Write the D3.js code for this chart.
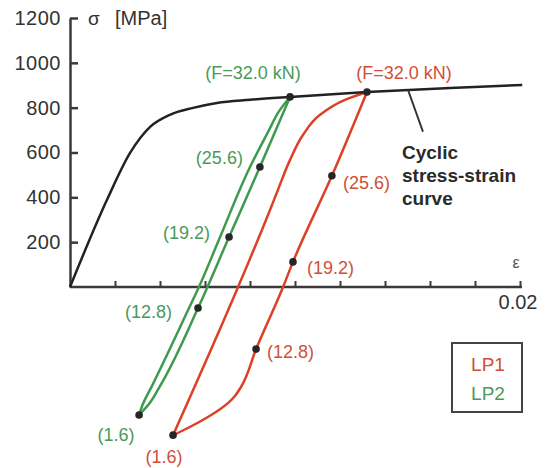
<!DOCTYPE html>
<html>
<head>
<meta charset="utf-8">
<script src="https://cdn.jsdelivr.net/npm/d3@7"></script>
<style>
  body { margin: 0; background: #fff; }
  svg { display: block; font-family: "Liberation Sans", Arial, sans-serif; }
</style>
</head>
<body>
<script>
// cyclic stress-strain curve
var curveStrain = [0, 0.00164, 0.00267, 0.00356, 0.00444, 0.00547, 0.00653, 0.0080, 0.00978, 0.0132, 0.0169, 0.0201];
var curveStress = [0, 388, 598, 714, 768, 799, 821, 835, 848, 870, 888, 901];

// LP1 (red) loop
var lp1LoadStrain = [0.00458, 0.00524, 0.00613, 0.00702, 0.00733, 0.0076, 0.00827, 0.00947, 0.00991, 0.01164, 0.0132];
var lp1LoadStress = [-661, -629, -580, -518, -486, -446, -277, 0, 112, 496, 870];
var lp1UnloadStrain = [0.0132, 0.01222, 0.01111, 0.01036, 0.00978, 0.00924, 0.0088, 0.00747, 0.00458];
var lp1UnloadStress = [870, 835, 768, 679, 567, 433, 321, 0, -661];
var lp1DotStrain = [0.00458, 0.00827, 0.00991, 0.01164, 0.0132];
var lp1DotStress = [-661, -277, 112, 496, 870];

// LP2 (green) loop
var lp2LoadStrain = [0.00307, 0.00351, 0.0040, 0.00569, 0.00707, 0.00844, 0.00978];
var lp2LoadStress = [-571, -522, -442, -94, 223, 535, 848];
var lp2UnloadStrain = [0.00978, 0.00933, 0.0088, 0.0080, 0.00667, 0.00573, 0.00529, 0.00364, 0.00324, 0.00307];
var lp2UnloadStress = [848, 790, 691, 535, 223, 0, -94, -442, -522, -571];
var lp2DotStrain = [0.00307, 0.00569, 0.00707, 0.00844, 0.00978];
var lp2DotStress = [-571, -94, 223, 535, 848];

var forceLabels = ['(1.6)', '(12.8)', '(19.2)', '(25.6)', '(F=32.0 kN)'];
var stressTicks = [200, 400, 600, 800, 1000, 1200];
var strainTicks = [0.002, 0.004, 0.006, 0.008, 0.01, 0.012, 0.014, 0.016, 0.018, 0.02];

var red = '#dc4128', green = '#3f9a4e';
var redText = '#cf5037', greenText = '#4a9a5a';
var axisColor = '#3a3a3a';

// label offsets from each dot [dx, dy, anchor]
var lp1Offsets = [[-9, 22, 'middle'], [11, 3, 'start'], [14, 6, 'start'], [11, 7, 'start'], [37, -19, 'middle']];
var lp2Offsets = [[-23, 20, 'middle'], [-26, 4, 'end'], [-19, -4, 'end'], [-17, -9, 'end'], [-37, -24, 'middle']];

var width = 548, height = 468;

var x = d3.scaleLinear().domain([0, 0.02]).range([70, 520]);
var y = d3.scaleLinear().domain([0, 1200]).range([287, 18]);

var svg = d3.select('body').append('svg')
    .attr('width', width)
    .attr('height', height);

var lineX = d3.line()
    .x(function(d) { return x(d[0]); })
    .y(function(d) { return y(d[1]); })
    .curve(d3.curveMonotoneX);

var lineY = d3.line()
    .x(function(d) { return x(d[0]); })
    .y(function(d) { return y(d[1]); })
    .curve(d3.curveMonotoneY);

function pairs(a, b) {
  return a.map(function(v, i) { return [v, b[i]]; });
}

// axes
var yAxis = d3.axisLeft(y)
    .tickValues(stressTicks)
    .tickSizeInner(-8)
    .tickSizeOuter(0)
    .tickPadding(9)
    .tickFormat(d3.format('d'));

var gy = svg.append('g')
    .attr('transform', 'translate(' + x(0) + ',0)')
    .call(yAxis);
gy.select('.domain').attr('stroke', axisColor).attr('stroke-width', 2.5);
gy.selectAll('.tick line').attr('stroke', axisColor).attr('stroke-width', 2.5);
gy.selectAll('.tick text')
    .attr('fill', '#333')
    .attr('font-size', 20)
    .attr('font-family', '"Liberation Sans", Arial, sans-serif')
    .attr('letter-spacing', 0.5);

var xAxis = d3.axisBottom(x)
    .tickValues(strainTicks)
    .tickSizeInner(-6)
    .tickSizeOuter(0)
    .tickFormat('');

var gx = svg.append('g')
    .attr('transform', 'translate(0,' + y(0) + ')')
    .call(xAxis);
gx.select('.domain').attr('stroke', axisColor).attr('stroke-width', 2.5)
    .attr('d', 'M' + x(0) + ',0H' + (x(0.02) + 2));
gx.selectAll('.tick line').attr('stroke', axisColor).attr('stroke-width', 2);

svg.append('text')
    .attr('x', x(0.02) - 2)
    .attr('y', y(0) + 15)
    .attr('text-anchor', 'middle')
    .attr('dominant-baseline', 'central')
    .attr('font-size', 20)
    .attr('fill', '#333')
    .text('0.02');

svg.append('text')
    .attr('x', x(0.02) - 4)
    .attr('y', y(0) - 25)
    .attr('text-anchor', 'middle')
    .attr('dominant-baseline', 'central')
    .attr('font-size', 16)
    .attr('fill', '#555')
    .text('ε');

svg.append('text')
    .attr('x', x(0) + 18)
    .attr('y', y(1200))
    .attr('dominant-baseline', 'central')
    .attr('font-size', 19)
    .attr('fill', '#333')
    .text('σ');

svg.append('text')
    .attr('x', x(0) + 45)
    .attr('y', y(1200))
    .attr('dominant-baseline', 'central')
    .attr('font-size', 20)
    .attr('fill', '#333')
    .text('[MPa]');

// loops
function drawLoop(load, unload, color) {
  svg.append('path')
      .attr('d', lineY(unload))
      .attr('fill', 'none')
      .attr('stroke', color)
      .attr('stroke-width', 2.5);
  svg.append('path')
      .attr('d', lineY(load))
      .attr('fill', 'none')
      .attr('stroke', color)
      .attr('stroke-width', 2.5);
}

drawLoop(pairs(lp2LoadStrain, lp2LoadStress), pairs(lp2UnloadStrain, lp2UnloadStress), green);
drawLoop(pairs(lp1LoadStrain, lp1LoadStress), pairs(lp1UnloadStrain, lp1UnloadStress), red);

// cyclic curve on top
svg.append('path')
    .attr('d', lineX(pairs(curveStrain, curveStress)))
    .attr('fill', 'none')
    .attr('stroke', '#222')
    .attr('stroke-width', 2.5);

// dots and labels
function drawDots(strain, stress, offsets, color) {
  var pts = pairs(strain, stress);
  svg.append('g').selectAll('circle')
    .data(pts)
    .enter().append('circle')
      .attr('cx', function(d) { return x(d[0]); })
      .attr('cy', function(d) { return y(d[1]); })
      .attr('r', 3.8)
      .attr('fill', '#262626');
  svg.append('g').selectAll('text')
    .data(pts)
    .enter().append('text')
      .attr('x', function(d, i) { return x(d[0]) + offsets[i][0]; })
      .attr('y', function(d, i) { return y(d[1]) + offsets[i][1]; })
      .attr('text-anchor', function(d, i) { return offsets[i][2]; })
      .attr('dominant-baseline', 'central')
      .attr('font-size', 18)
      .attr('fill', color)
      .text(function(d, i) { return forceLabels[i]; });
}

drawDots(lp2DotStrain, lp2DotStress, lp2Offsets, greenText);
drawDots(lp1DotStrain, lp1DotStress, lp1Offsets, redText);

// cyclic curve annotation
svg.append('line')
    .attr('x1', x(0.01502)).attr('y1', y(880))
    .attr('x2', x(0.01502) + 15).attr('y2', y(880) + 42)
    .attr('stroke', '#333')
    .attr('stroke-width', 2);

var note = svg.append('text')
    .attr('x', 402)
    .attr('y', 152)
    .attr('font-size', 19)
    .attr('font-weight', 'bold')
    .attr('fill', '#2a2a2a')
    .attr('dominant-baseline', 'central');
['Cyclic', 'stress-strain', 'curve'].forEach(function(t, i) {
  note.append('tspan').attr('x', 402).attr('dy', i === 0 ? 0 : 23).text(t);
});

// legend
var legend = svg.append('g');
legend.append('rect')
    .attr('x', 452).attr('y', 343)
    .attr('width', 70).attr('height', 69)
    .attr('fill', 'none')
    .attr('stroke', '#444')
    .attr('stroke-width', 2);
legend.append('text')
    .attr('x', 488).attr('y', 364)
    .attr('text-anchor', 'middle')
    .attr('dominant-baseline', 'central')
    .attr('font-size', 19)
    .attr('fill', redText)
    .text('LP1');
legend.append('text')
    .attr('x', 488).attr('y', 393)
    .attr('text-anchor', 'middle')
    .attr('dominant-baseline', 'central')
    .attr('font-size', 19)
    .attr('fill', greenText)
    .text('LP2');
</script>
</body>
</html>
